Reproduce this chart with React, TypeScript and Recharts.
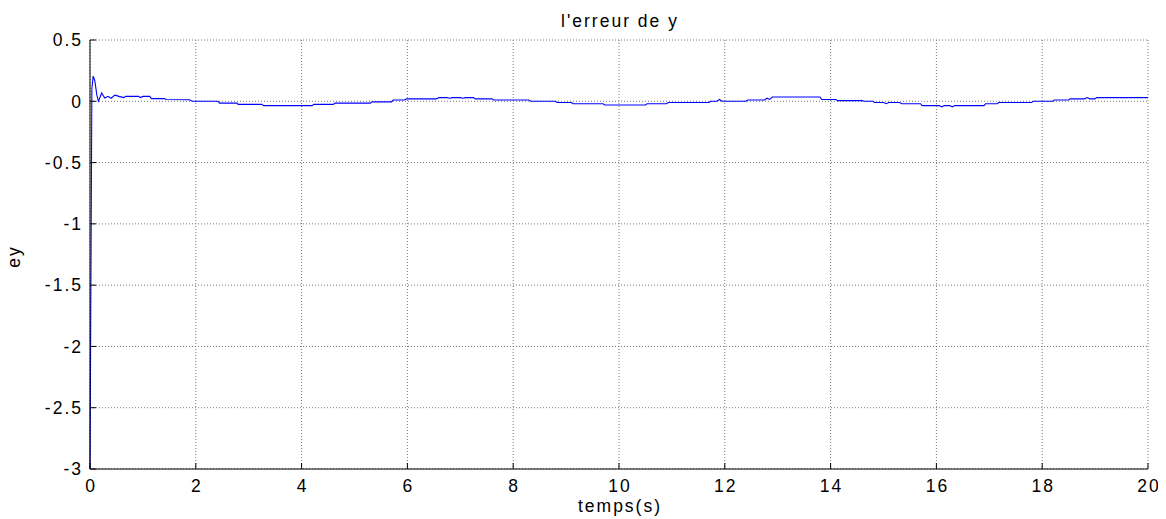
import React from "react";
import { LineChart, Line, XAxis, YAxis, CartesianGrid } from "recharts";

const timeValues: number[] = [
  0, 0.035, 0.06, 0.09, 0.13, 0.16, 0.22, 0.28, 0.34, 0.4, 0.47, 0.55, 0.64, 0.67, 0.92, 0.95, 1.0, 1.13, 1.16, 1.41,
  1.44, 1.88, 1.93, 2.42, 2.45, 2.78, 2.8, 3.25, 3.28, 4.2, 4.23, 4.6, 4.63, 5.3, 5.33, 5.7, 5.73, 5.95, 5.98, 6.55,
  6.6, 6.75, 6.8, 6.85, 7.0, 7.05, 7.1, 7.25, 7.28, 7.6, 7.63, 8.3, 8.33, 8.8, 8.83, 9.1, 9.13, 9.7, 9.73, 10.5,
  10.53, 10.9, 10.93, 11.7, 11.73, 11.85, 11.9, 11.95, 12.4, 12.43, 12.75, 12.8, 12.85, 12.9, 13.8, 13.83, 14.1, 14.13, 14.6, 14.63,
  14.8, 14.83, 15.0, 15.05, 15.1, 15.3, 15.35, 15.7, 15.73, 16.05, 16.1, 16.15, 16.25, 16.3, 16.35, 16.9, 16.93, 17.15, 17.18, 17.8,
  17.83, 18.2, 18.23, 18.5, 18.53, 18.8, 18.85, 18.9, 19.0, 19.03, 20,
];

const eyValues: number[] = [
  -3, 0.1, 0.205, 0.17, 0.05, 0.0, 0.068, 0.027, 0.04, 0.025, 0.05, 0.04, 0.03, 0.04, 0.04, 0.03, 0.04, 0.04, 0.022, 0.022,
  0.015, 0.012, 0.0, 0.0, -0.015, -0.015, -0.025, -0.025, -0.035, -0.035, -0.025, -0.025, -0.015, -0.015, -0.005, -0.005, 0.01, 0.01, 0.02, 0.02,
  0.03, 0.03, 0.025, 0.03, 0.03, 0.025, 0.03, 0.03, 0.02, 0.02, 0.01, 0.01, 0.0, 0.0, -0.01, -0.01, -0.02, -0.02, -0.03, -0.03,
  -0.02, -0.02, -0.01, -0.01, 0.0, 0.0, 0.015, 0.0, 0.0, 0.01, 0.01, 0.025, 0.015, 0.035, 0.035, 0.015, 0.015, 0.005, 0.005, 0.0,
  0.0, -0.01, -0.01, -0.02, -0.01, -0.01, -0.02, -0.02, -0.035, -0.035, -0.045, -0.035, -0.035, -0.045, -0.035, -0.035, -0.02, -0.02, -0.01, -0.01,
  0.0, 0.0, 0.01, 0.01, 0.02, 0.02, 0.03, 0.02, 0.02, 0.03, 0.03,
];

const xTicks: number[] = [0, 2, 4, 6, 8, 10, 12, 14, 16, 18, 20];
const yTicks: number[] = [-3, -2.5, -2, -1.5, -1, -0.5, 0, 0.5];

const titleText = "l'erreur de y";
const xLabelText = "temps(s)";
const yLabelText = "ey";

const data = timeValues.map((t, i) => ({ t, ey: eyValues[i] }));

const FONT = "Arial, 'Liberation Sans', Helvetica, sans-serif";
const FS = 17.5;
const LS = 2;

const W = 1158;
const H = 511;
const PL = 82;
const PR = 1140;
const PT = 32;
const PB = 461;

const BottomTick = (props: any) => {
  const { x, y, payload } = props;
  return (
    <g>
      <line x1={x} y1={y} x2={x} y2={y - 6} stroke="#000" strokeWidth={1} />
      <text x={x + LS / 2} y={y + 23} textAnchor="middle" fontFamily={FONT} fontSize={FS} letterSpacing={LS} fill="#000">
        {payload.value}
      </text>
    </g>
  );
};

const TopTick = (props: any) => {
  const { x, y } = props;
  return <line x1={x} y1={y} x2={x} y2={y + 6} stroke="#000" strokeWidth={1} />;
};

const LeftTick = (props: any) => {
  const { x, y, payload } = props;
  return (
    <g>
      <line x1={x} y1={y} x2={x + 6} y2={y} stroke="#000" strokeWidth={1} />
      <text x={x - 7} y={y + 6.3} textAnchor="end" fontFamily={FONT} fontSize={FS} letterSpacing={LS} fill="#000">
        {payload.value}
      </text>
    </g>
  );
};

const RightTick = (props: any) => {
  const { x, y } = props;
  return <line x1={x} y1={y} x2={x - 6} y2={y} stroke="#000" strokeWidth={1} />;
};

export default function App() {
  return (
    <div style={{ position: "relative", width: W, height: H }}>
      <LineChart
        width={W}
        height={H}
        data={data}
        margin={{ top: PT, right: W - PR, bottom: 0, left: 0 }}
        style={{ overflow: "visible" }}
      >
        <CartesianGrid stroke="#7a7a7a" strokeDasharray="1 2" strokeWidth={1} />
        <XAxis
          dataKey="t"
          type="number"
          domain={[0, 20]}
          ticks={xTicks}
          height={H - PB}
          tickSize={0}
          tickMargin={0}
          axisLine={{ stroke: "#000", strokeWidth: 1 }}
          tick={<BottomTick />}
          interval={0}
        />
        <XAxis
          xAxisId="top"
          dataKey="t"
          type="number"
          orientation="top"
          domain={[0, 20]}
          ticks={xTicks}
          height={0}
          tickSize={0}
          tickMargin={0}
          axisLine={{ stroke: "#000", strokeWidth: 1 }}
          tick={<TopTick />}
          interval={0}
        />
        <YAxis
          type="number"
          domain={[-3, 0.5]}
          ticks={yTicks}
          width={PL}
          tickSize={0}
          tickMargin={0}
          axisLine={{ stroke: "#000", strokeWidth: 1 }}
          tick={<LeftTick />}
          interval={0}
          allowDataOverflow
        />
        <YAxis
          yAxisId="right"
          type="number"
          orientation="right"
          domain={[-3, 0.5]}
          ticks={yTicks}
          width={0}
          tickSize={0}
          tickMargin={0}
          axisLine={{ stroke: "#000", strokeWidth: 1 }}
          tick={<RightTick />}
          interval={0}
        />
        <Line
          dataKey="ey"
          type="linear"
          stroke="#0000ff"
          strokeWidth={1.1}
          dot={false}
          activeDot={false}
          isAnimationActive={false}
        />
      </LineChart>
      <svg
        width={W}
        height={H + 10}
        style={{ position: "absolute", left: 0, top: 0, pointerEvents: "none", overflow: "visible" }}
      >
        <text x={(PL + PR) / 2 + LS / 2} y={19} textAnchor="middle" fontFamily={FONT} fontSize={FS} letterSpacing={LS} fill="#000">
          {titleText}
        </text>
        <text x={(PL + PR) / 2 + LS / 2} y={504} textAnchor="middle" fontFamily={FONT} fontSize={FS} letterSpacing={LS} fill="#000">
          {xLabelText}
        </text>
        <text
          x={12}
          y={(PT + PB) / 2 + 2}
          textAnchor="middle"
          fontFamily={FONT}
          fontSize={FS}
          letterSpacing={LS}
          fill="#000"
          transform={`rotate(-90 12 ${(PT + PB) / 2 + 2})`}
        >
          {yLabelText}
        </text>
      </svg>
    </div>
  );
}
